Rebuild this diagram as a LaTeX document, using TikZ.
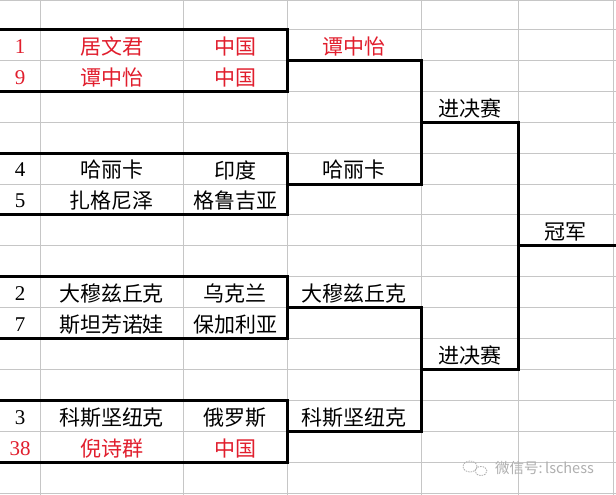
\documentclass[tikz,border=0pt]{standalone}
\usepackage{fontspec}
\setmainfont{Liberation Serif}
\newfontfamily\cjk{Noto Sans CJK SC}
\definecolor{cred}{RGB}{225,30,45}
\definecolor{gridc}{RGB}{198,198,198}
\definecolor{wm}{RGB}{175,175,175}
\begin{document}
\begin{tikzpicture}[x=1pt,y=-1pt,
  num/.style={inner sep=0pt, font=\fontsize{21}{21}\selectfont},
  txt/.style={inner sep=0pt, font=\cjk\fontsize{21}{21}\selectfont},
  red/.style={text=cred},
  thickl/.style={line width=3pt, line join=miter, line cap=rect},
  gridl/.style={draw=gridc, line width=0.9pt}]
\useasboundingbox (0,0) rectangle (616,495);
\fill[white] (0,0) rectangle (616,495);
% grid
\foreach \y in {0.6,29.5,60.4,91.3,122.2,153.1,184,214.9,245.8,276.7,307.6,338.5,369.4,400.3,431.2,462.1,493}
  \draw[gridl] (0,\y) -- (616,\y);
\foreach \x in {40,183,287,421,518,613}
  \draw[gridl] (\x,0) -- (\x,495);
% boxes
\draw[thickl] (-3,29.5) -| (287,91.3) -- (-3,91.3);
\draw[thickl] (-3,153.1) -| (287,214.9) -- (-3,214.9);
\draw[thickl] (-3,276.7) -| (287,338.5) -- (-3,338.5);
\draw[thickl] (-3,400.3) -| (287,462.1) -- (-3,462.1);
% bracket coordinates
\coordinate (q1) at (287,60.4);
\coordinate (q2) at (287,184);
\coordinate (q3) at (287,307.6);
\coordinate (q4) at (287,431.2);
\coordinate (s1) at (421,122.2);
\coordinate (s2) at (421,369.4);
\coordinate (f) at (518,245.8);
\coordinate (fe) at (619,245.8);
\draw[thickl] (q1) -- ++(134,0) |- (q2);
\draw[thickl] (q3) -- ++(134,0) |- (q4);
\draw[thickl] (s1) -- ++(97,0) |- (s2);
\draw[thickl] (f) -- (fe);
% players
\node[num,red] (n1) at (20,46.5) {1};
\node[txt,red] (p1) at (111.5,46.5) {居文君};
\node[txt,red] (c1) at (235,46.5) {中国};
\node[num,red] (n9) at (20,77.5) {9};
\node[txt,red] (p9) at (111.5,77.5) {谭中怡};
\node[txt,red] (c9) at (235,77.5) {中国};
\node[num] (n4) at (20,170) {4};
\node[txt] (p4) at (111.5,170) {哈丽卡};
\node[txt] (c4) at (235,170) {印度};
\node[num] (n5) at (20,201) {5};
\node[txt] (p5) at (111.5,201) {扎格尼泽};
\node[txt] (c5) at (235,201) {格鲁吉亚};
\node[num] (n2) at (20,293.7) {2};
\node[txt] (p2) at (111.5,293.7) {大穆兹丘克};
\node[txt] (c2) at (235,293.7) {乌克兰};
\node[num] (n7) at (20,324.5) {7};
\node[txt] (p7) at (111.5,324.5) {斯坦芳诺娃};
\node[txt] (c7) at (235,324.5) {保加利亚};
\node[num] (n3) at (20,417.3) {3};
\node[txt] (p3) at (111.5,417.3) {科斯坚纽克};
\node[txt] (c3) at (235,417.3) {俄罗斯};
\node[num,red] (n38) at (20,448.2) {38};
\node[txt,red] (p38) at (111.5,448.2) {倪诗群};
\node[txt,red] (c38) at (235,448.2) {中国};
% winners
\node[txt,red] (w1) at (354,46.5) {谭中怡};
\node[txt] (w2) at (354,170) {哈丽卡};
\node[txt] (w3) at (354,293.7) {大穆兹丘克};
\node[txt] (w4) at (354,417.3) {科斯坚纽克};
\node[txt] (sf1) at (469.5,108.3) {进决赛};
\node[txt] (sf2) at (469.5,355.5) {进决赛};
\node[txt] (ch) at (565.5,231.8) {冠军};
% watermark
\draw[wm, line width=0.8pt, dash pattern=on 1.5pt off 1pt] (470,466.5) ellipse (7pt and 5.5pt);
\draw[wm, line width=0.8pt, dash pattern=on 1.5pt off 1pt] (481,471) ellipse (6pt and 4.5pt);
\node[inner sep=0pt, anchor=west, text=wm, font=\cjk\fontsize{14.5}{14.5}\selectfont] (wmk) at (495,468.5) {微信号:\,lschess};
\end{tikzpicture}
\end{document}
